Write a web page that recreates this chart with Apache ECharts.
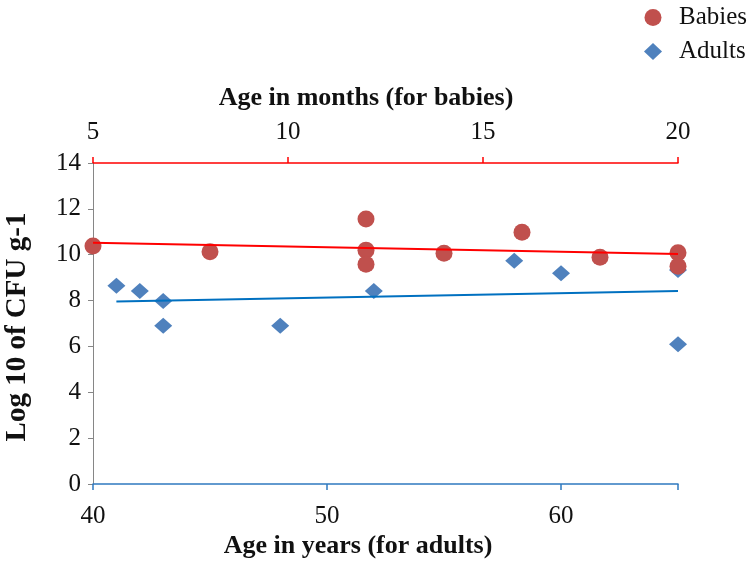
<!DOCTYPE html>
<html>
<head>
<meta charset="utf-8">
<script src="https://cdn.jsdelivr.net/npm/echarts@6/dist/echarts.min.js"></script>
<style>html,body{margin:0;padding:0;background:#fff}#c{width:756px;height:561px}</style>
</head>
<body>
<div id="c"></div>
<script>
// Babies: age in months (top axis) vs log10 CFU/g
const babyMonths = [5, 8, 12, 12, 12, 14, 16, 18, 20, 20];
const babyLog = [10.38, 10.13, 11.56, 10.2, 9.58, 10.06, 10.98, 9.89, 10.09, 9.5];
// Adults: age in years (bottom axis) vs log10 CFU/g
const adultYears = [41, 42, 43, 43, 48, 52, 58, 60, 65, 65];
const adultLog = [8.65, 8.42, 7.98, 6.9, 6.9, 8.42, 9.74, 9.19, 9.33, 6.1];
// Axis ticks
const yTicks = [0, 2, 4, 6, 8, 10, 12, 14];
const monthTicks = [5, 10, 15, 20];
const yearTicks = [40, 50, 60];

function linFit(xs, ys) {
  const n = xs.length;
  const mx = xs.reduce((a, b) => a + b, 0) / n;
  const my = ys.reduce((a, b) => a + b, 0) / n;
  let sxy = 0, sxx = 0;
  for (let i = 0; i < n; i++) { sxy += (xs[i] - mx) * (ys[i] - my); sxx += (xs[i] - mx) ** 2; }
  const b = sxy / sxx, a = my - b * mx;
  const x0 = Math.min(...xs), x1 = Math.max(...xs);
  return [[x0, a + b * x0], [x1, a + b * x1]];
}

const font = "'Liberation Serif','Times New Roman',serif";
const chart = echarts.init(document.getElementById('c'), null, {renderer: 'canvas'});
chart.setOption({
  animation: false,
  backgroundColor: '#fff',
  textStyle: {fontFamily: font},
  grid: {left: 93, right: 78, top: 163, bottom: 77, containLabel: false},
  legend: {
    orient: 'vertical', left: 639, top: 0, itemWidth: 18, itemHeight: 17, itemGap: 9,
    symbolKeepAspect: true,
    textStyle: {fontFamily: font, fontSize: 25, color: '#111', lineHeight: 25, padding: [0, 0, 0, 12]},
    data: [{name: 'Babies', icon: 'circle'}, {name: 'Adults', icon: 'diamond'}]
  },
  xAxis: [
    {
      type: 'value', position: 'bottom', min: 40, max: 65, interval: 10,
      axisLine: {show: true, lineStyle: {color: '#2f7ac0', width: 1.5}},
      axisTick: {show: true, length: 6, lineStyle: {color: '#2f7ac0', width: 1.5}},
      axisLabel: {fontSize: 25, color: '#111', margin: 20, fontFamily: font,
        formatter: v => (yearTicks.indexOf(v) >= 0 ? String(v) : '')},
      splitLine: {show: false}
    },
    {
      type: 'value', position: 'top', min: 5, max: 20, interval: 5,
      axisLine: {show: true, lineStyle: {color: '#ff0000', width: 1.5}},
      axisTick: {show: true, length: 6, lineStyle: {color: '#ff0000', width: 1.5}},
      axisLabel: {fontSize: 25, color: '#111', margin: 18, fontFamily: font,
        formatter: v => (monthTicks.indexOf(v) >= 0 ? String(v) : '')},
      splitLine: {show: false}
    }
  ],
  yAxis: {
    type: 'value', min: 0, max: 14, interval: 2,
    axisLine: {show: true, lineStyle: {color: '#868686', width: 1}},
    axisTick: {show: true, length: 5, lineStyle: {color: '#868686'}},
    axisLabel: {fontSize: 25, color: '#111', margin: 12, fontFamily: font,
      formatter: v => (yTicks.indexOf(v) >= 0 ? String(v) : '')},
    splitLine: {show: false}
  },
  graphic: [
    {type: 'text', style: {text: 'Age in months (for babies)', font: "bold 26px 'Liberation Serif','Times New Roman',serif", fill: '#111', textAlign: 'center', textVerticalAlign: 'middle'}, position: [366, 98]},
    {type: 'text', style: {text: 'Age in years (for adults)', font: "bold 26px 'Liberation Serif','Times New Roman',serif", fill: '#111', textAlign: 'center', textVerticalAlign: 'middle'}, position: [358, 546]},
    {type: 'text', style: {text: 'Log 10 of CFU g-1', font: "bold 29px 'Liberation Serif','Times New Roman',serif", fill: '#111', textAlign: 'center', textVerticalAlign: 'middle'}, position: [18, 327], rotation: Math.PI / 2}
  ],
  series: [
    {
      name: 'Adults', type: 'scatter', xAxisIndex: 0, symbol: 'diamond', symbolSize: [18, 16],
      itemStyle: {color: '#4f81bd', opacity: 1}, z: 2,
      data: adultYears.map((x, i) => [x, adultLog[i]])
    },
    {
      name: 'Babies', type: 'scatter', xAxisIndex: 1, symbol: 'circle', symbolSize: 17,
      itemStyle: {color: '#c0504d', opacity: 1}, z: 3,
      data: babyMonths.map((x, i) => [x, babyLog[i]])
    },
    {
      name: 'Adults trend', type: 'line', xAxisIndex: 0, showSymbol: false, symbol: 'none',
      lineStyle: {color: '#0070c0', width: 2}, z: 4, silent: true,
      data: linFit(adultYears, adultLog)
    },
    {
      name: 'Babies trend', type: 'line', xAxisIndex: 1, showSymbol: false, symbol: 'none',
      lineStyle: {color: '#ff0000', width: 2}, z: 4, silent: true,
      data: linFit(babyMonths, babyLog)
    }
  ]
});
</script>
</body>
</html>
